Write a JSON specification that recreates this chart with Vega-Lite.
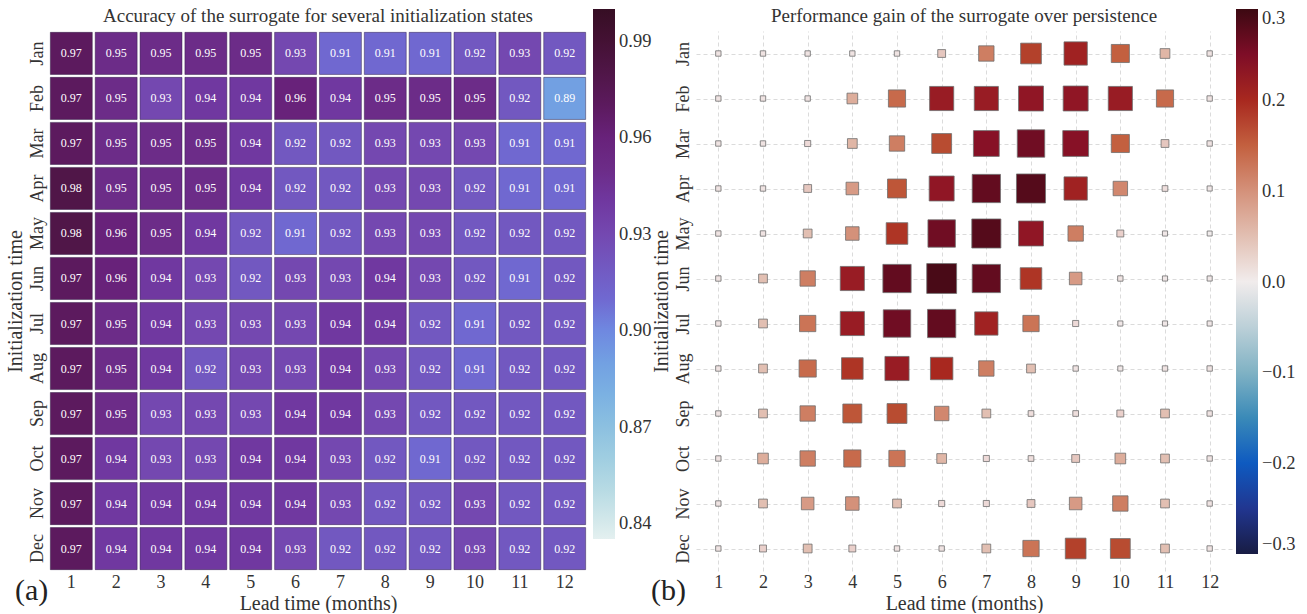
{
  "$schema": "https://vega.github.io/schema/vega-lite/v6.json",
  "background": "white",
  "padding": {"left": 5, "top": 7, "right": 0, "bottom": 0},
  "spacing": -1,
  "config": {
    "font": "Liberation Serif",
    "view": {"stroke": null},
    "axis": {
      "domain": false,
      "ticks": false,
      "labelFont": "Liberation Serif",
      "titleFont": "Liberation Serif",
      "labelColor": "#333333",
      "titleColor": "#333333",
      "labelFontSize": 18,
      "titleFontSize": 20,
      "titleFontWeight": "normal"
    },
    "title": {"font": "Liberation Serif", "fontWeight": "normal", "color": "#333333", "fontSize": 19},
    "legend": {
      "labelFont": "Liberation Serif",
      "labelFontSize": 18.5,
      "labelColor": "#333333",
      "gradientStrokeWidth": 0,
      "labelBaseline": "middle"
    }
  },
  "datasets": {
    "grid": [
      {"month": "Jan", "lead": 1, "acc": 0.97, "gain": 0.01}, {"month": "Jan", "lead": 2, "acc": 0.95, "gain": 0.01}, {"month": "Jan", "lead": 3, "acc": 0.95, "gain": 0.01}, {"month": "Jan", "lead": 4, "acc": 0.95, "gain": 0.01}, {"month": "Jan", "lead": 5, "acc": 0.95, "gain": 0.01}, {"month": "Jan", "lead": 6, "acc": 0.93, "gain": 0.04}, {"month": "Jan", "lead": 7, "acc": 0.91, "gain": 0.12}, {"month": "Jan", "lead": 8, "acc": 0.91, "gain": 0.18}, {"month": "Jan", "lead": 9, "acc": 0.91, "gain": 0.21}, {"month": "Jan", "lead": 10, "acc": 0.92, "gain": 0.15}, {"month": "Jan", "lead": 11, "acc": 0.93, "gain": 0.06}, {"month": "Jan", "lead": 12, "acc": 0.92, "gain": 0.01},
      {"month": "Feb", "lead": 1, "acc": 0.97, "gain": 0.01}, {"month": "Feb", "lead": 2, "acc": 0.95, "gain": 0.01}, {"month": "Feb", "lead": 3, "acc": 0.93, "gain": 0.01}, {"month": "Feb", "lead": 4, "acc": 0.94, "gain": 0.07}, {"month": "Feb", "lead": 5, "acc": 0.94, "gain": 0.14}, {"month": "Feb", "lead": 6, "acc": 0.96, "gain": 0.22}, {"month": "Feb", "lead": 7, "acc": 0.94, "gain": 0.22}, {"month": "Feb", "lead": 8, "acc": 0.95, "gain": 0.23}, {"month": "Feb", "lead": 9, "acc": 0.95, "gain": 0.23}, {"month": "Feb", "lead": 10, "acc": 0.95, "gain": 0.22}, {"month": "Feb", "lead": 11, "acc": 0.92, "gain": 0.14}, {"month": "Feb", "lead": 12, "acc": 0.89, "gain": 0.01},
      {"month": "Mar", "lead": 1, "acc": 0.97, "gain": 0.01}, {"month": "Mar", "lead": 2, "acc": 0.95, "gain": 0.01}, {"month": "Mar", "lead": 3, "acc": 0.95, "gain": 0.02}, {"month": "Mar", "lead": 4, "acc": 0.95, "gain": 0.06}, {"month": "Mar", "lead": 5, "acc": 0.94, "gain": 0.12}, {"month": "Mar", "lead": 6, "acc": 0.92, "gain": 0.17}, {"month": "Mar", "lead": 7, "acc": 0.92, "gain": 0.24}, {"month": "Mar", "lead": 8, "acc": 0.93, "gain": 0.26}, {"month": "Mar", "lead": 9, "acc": 0.93, "gain": 0.24}, {"month": "Mar", "lead": 10, "acc": 0.93, "gain": 0.15}, {"month": "Mar", "lead": 11, "acc": 0.91, "gain": 0.04}, {"month": "Mar", "lead": 12, "acc": 0.91, "gain": 0.01},
      {"month": "Apr", "lead": 1, "acc": 0.98, "gain": 0.01}, {"month": "Apr", "lead": 2, "acc": 0.95, "gain": 0.01}, {"month": "Apr", "lead": 3, "acc": 0.95, "gain": 0.04}, {"month": "Apr", "lead": 4, "acc": 0.95, "gain": 0.09}, {"month": "Apr", "lead": 5, "acc": 0.94, "gain": 0.16}, {"month": "Apr", "lead": 6, "acc": 0.92, "gain": 0.23}, {"month": "Apr", "lead": 7, "acc": 0.92, "gain": 0.27}, {"month": "Apr", "lead": 8, "acc": 0.93, "gain": 0.28}, {"month": "Apr", "lead": 9, "acc": 0.93, "gain": 0.21}, {"month": "Apr", "lead": 10, "acc": 0.92, "gain": 0.11}, {"month": "Apr", "lead": 11, "acc": 0.91, "gain": 0.015}, {"month": "Apr", "lead": 12, "acc": 0.91, "gain": 0.005},
      {"month": "May", "lead": 1, "acc": 0.98, "gain": 0.01}, {"month": "May", "lead": 2, "acc": 0.96, "gain": 0.01}, {"month": "May", "lead": 3, "acc": 0.95, "gain": 0.05}, {"month": "May", "lead": 4, "acc": 0.94, "gain": 0.10}, {"month": "May", "lead": 5, "acc": 0.92, "gain": 0.19}, {"month": "May", "lead": 6, "acc": 0.91, "gain": 0.26}, {"month": "May", "lead": 7, "acc": 0.92, "gain": 0.28}, {"month": "May", "lead": 8, "acc": 0.93, "gain": 0.23}, {"month": "May", "lead": 9, "acc": 0.93, "gain": 0.12}, {"month": "May", "lead": 10, "acc": 0.92, "gain": 0.03}, {"month": "May", "lead": 11, "acc": 0.92, "gain": 0.005}, {"month": "May", "lead": 12, "acc": 0.92, "gain": 0.0},
      {"month": "Jun", "lead": 1, "acc": 0.97, "gain": 0.01}, {"month": "Jun", "lead": 2, "acc": 0.96, "gain": 0.05}, {"month": "Jun", "lead": 3, "acc": 0.94, "gain": 0.12}, {"month": "Jun", "lead": 4, "acc": 0.93, "gain": 0.22}, {"month": "Jun", "lead": 5, "acc": 0.92, "gain": 0.27}, {"month": "Jun", "lead": 6, "acc": 0.93, "gain": 0.29}, {"month": "Jun", "lead": 7, "acc": 0.93, "gain": 0.27}, {"month": "Jun", "lead": 8, "acc": 0.94, "gain": 0.19}, {"month": "Jun", "lead": 9, "acc": 0.93, "gain": 0.09}, {"month": "Jun", "lead": 10, "acc": 0.92, "gain": 0.01}, {"month": "Jun", "lead": 11, "acc": 0.91, "gain": 0.005}, {"month": "Jun", "lead": 12, "acc": 0.92, "gain": 0.005},
      {"month": "Jul", "lead": 1, "acc": 0.97, "gain": 0.01}, {"month": "Jul", "lead": 2, "acc": 0.95, "gain": 0.05}, {"month": "Jul", "lead": 3, "acc": 0.94, "gain": 0.13}, {"month": "Jul", "lead": 4, "acc": 0.93, "gain": 0.22}, {"month": "Jul", "lead": 5, "acc": 0.93, "gain": 0.26}, {"month": "Jul", "lead": 6, "acc": 0.93, "gain": 0.27}, {"month": "Jul", "lead": 7, "acc": 0.94, "gain": 0.21}, {"month": "Jul", "lead": 8, "acc": 0.94, "gain": 0.13}, {"month": "Jul", "lead": 9, "acc": 0.92, "gain": 0.02}, {"month": "Jul", "lead": 10, "acc": 0.91, "gain": 0.005}, {"month": "Jul", "lead": 11, "acc": 0.92, "gain": 0.005}, {"month": "Jul", "lead": 12, "acc": 0.92, "gain": 0.005},
      {"month": "Aug", "lead": 1, "acc": 0.97, "gain": 0.01}, {"month": "Aug", "lead": 2, "acc": 0.95, "gain": 0.05}, {"month": "Aug", "lead": 3, "acc": 0.94, "gain": 0.14}, {"month": "Aug", "lead": 4, "acc": 0.92, "gain": 0.19}, {"month": "Aug", "lead": 5, "acc": 0.93, "gain": 0.22}, {"month": "Aug", "lead": 6, "acc": 0.93, "gain": 0.20}, {"month": "Aug", "lead": 7, "acc": 0.94, "gain": 0.12}, {"month": "Aug", "lead": 8, "acc": 0.93, "gain": 0.05}, {"month": "Aug", "lead": 9, "acc": 0.92, "gain": 0.01}, {"month": "Aug", "lead": 10, "acc": 0.91, "gain": 0.005}, {"month": "Aug", "lead": 11, "acc": 0.92, "gain": 0.01}, {"month": "Aug", "lead": 12, "acc": 0.92, "gain": 0.01},
      {"month": "Sep", "lead": 1, "acc": 0.97, "gain": 0.01}, {"month": "Sep", "lead": 2, "acc": 0.95, "gain": 0.05}, {"month": "Sep", "lead": 3, "acc": 0.93, "gain": 0.12}, {"month": "Sep", "lead": 4, "acc": 0.93, "gain": 0.16}, {"month": "Sep", "lead": 5, "acc": 0.93, "gain": 0.17}, {"month": "Sep", "lead": 6, "acc": 0.94, "gain": 0.11}, {"month": "Sep", "lead": 7, "acc": 0.94, "gain": 0.05}, {"month": "Sep", "lead": 8, "acc": 0.93, "gain": 0.015}, {"month": "Sep", "lead": 9, "acc": 0.92, "gain": 0.015}, {"month": "Sep", "lead": 10, "acc": 0.92, "gain": 0.03}, {"month": "Sep", "lead": 11, "acc": 0.92, "gain": 0.05}, {"month": "Sep", "lead": 12, "acc": 0.92, "gain": 0.01},
      {"month": "Oct", "lead": 1, "acc": 0.97, "gain": 0.01}, {"month": "Oct", "lead": 2, "acc": 0.94, "gain": 0.07}, {"month": "Oct", "lead": 3, "acc": 0.93, "gain": 0.12}, {"month": "Oct", "lead": 4, "acc": 0.93, "gain": 0.14}, {"month": "Oct", "lead": 5, "acc": 0.94, "gain": 0.13}, {"month": "Oct", "lead": 6, "acc": 0.94, "gain": 0.06}, {"month": "Oct", "lead": 7, "acc": 0.93, "gain": 0.02}, {"month": "Oct", "lead": 8, "acc": 0.92, "gain": 0.015}, {"month": "Oct", "lead": 9, "acc": 0.91, "gain": 0.04}, {"month": "Oct", "lead": 10, "acc": 0.92, "gain": 0.07}, {"month": "Oct", "lead": 11, "acc": 0.92, "gain": 0.05}, {"month": "Oct", "lead": 12, "acc": 0.92, "gain": 0.01},
      {"month": "Nov", "lead": 1, "acc": 0.97, "gain": 0.01}, {"month": "Nov", "lead": 2, "acc": 0.94, "gain": 0.05}, {"month": "Nov", "lead": 3, "acc": 0.94, "gain": 0.09}, {"month": "Nov", "lead": 4, "acc": 0.94, "gain": 0.10}, {"month": "Nov", "lead": 5, "acc": 0.94, "gain": 0.05}, {"month": "Nov", "lead": 6, "acc": 0.94, "gain": 0.02}, {"month": "Nov", "lead": 7, "acc": 0.93, "gain": 0.02}, {"month": "Nov", "lead": 8, "acc": 0.92, "gain": 0.04}, {"month": "Nov", "lead": 9, "acc": 0.92, "gain": 0.09}, {"month": "Nov", "lead": 10, "acc": 0.93, "gain": 0.12}, {"month": "Nov", "lead": 11, "acc": 0.92, "gain": 0.05}, {"month": "Nov", "lead": 12, "acc": 0.92, "gain": 0.01},
      {"month": "Dec", "lead": 1, "acc": 0.97, "gain": 0.01}, {"month": "Dec", "lead": 2, "acc": 0.94, "gain": 0.03}, {"month": "Dec", "lead": 3, "acc": 0.94, "gain": 0.05}, {"month": "Dec", "lead": 4, "acc": 0.94, "gain": 0.03}, {"month": "Dec", "lead": 5, "acc": 0.94, "gain": 0.01}, {"month": "Dec", "lead": 6, "acc": 0.93, "gain": 0.01}, {"month": "Dec", "lead": 7, "acc": 0.92, "gain": 0.05}, {"month": "Dec", "lead": 8, "acc": 0.92, "gain": 0.13}, {"month": "Dec", "lead": 9, "acc": 0.92, "gain": 0.18}, {"month": "Dec", "lead": 10, "acc": 0.93, "gain": 0.17}, {"month": "Dec", "lead": 11, "acc": 0.92, "gain": 0.05}, {"month": "Dec", "lead": 12, "acc": 0.92, "gain": 0.01}
    ]
  },
  "resolve": {"scale": {"color": "independent", "size": "independent", "x": "independent", "y": "independent"}},
  "hconcat": [
    {
      "title": {"text": "(a)", "orient": "bottom", "anchor": "start", "frame": "bounds", "fontSize": 30, "color": "#222222", "offset": -37, "dx": 10},
      "vconcat": [
        {
          "width": 538,
          "height": 540,
          "data": {"name": "grid"},
          "title": {"text": "Accuracy of the surrogate for several initialization states", "offset": 5},
          "encoding": {
            "x": {
              "field": "lead", "type": "ordinal",
              "scale": {"paddingInner": 0.065, "paddingOuter": 0.03},
              "axis": {"labelAngle": 0, "labelPadding": 2, "title": "Lead time (months)", "titlePadding": 2}
            },
            "y": {
              "field": "month", "type": "ordinal",
              "sort": ["Jan", "Feb", "Mar", "Apr", "May", "Jun", "Jul", "Aug", "Sep", "Oct", "Nov", "Dec"],
              "scale": {"paddingInner": 0.065, "paddingOuter": 0.03},
              "axis": {"labelAngle": -90, "labelAlign": "center", "labelBaseline": "bottom", "labelPadding": 3, "title": "Initialization time", "titlePadding": 3}
            }
          },
          "layer": [
            {
              "mark": {"type": "rect", "stroke": "#2a1840", "strokeOpacity": 0.45, "strokeWidth": 1},
              "encoding": {
                "color": {
                  "field": "acc", "type": "quantitative",
                  "scale": {
                    "domain": [0.835, 0.85, 0.87, 0.89, 0.90, 0.91, 0.92, 0.93, 0.94, 0.95, 0.96, 0.97, 0.98, 1.0],
                    "range": ["#e4f0f0", "#b8dbe4", "#8cc0e0", "#72a0e2", "#6f88e0", "#7068d0", "#7258c0", "#7448b0", "#7038a0", "#6c2c88", "#68227a", "#5c1a5e", "#501648", "#360e24"]
                  },
                  "legend": {
                    "title": null, "orient": "none", "direction": "vertical",
                    "legendX": 544, "legendY": -22,
                    "gradientLength": 530, "gradientThickness": 22,
                    "values": [0.84, 0.87, 0.90, 0.93, 0.96, 0.99], "format": ".2f", "labelOffset": 4
                  }
                }
              }
            },
            {
              "mark": {"type": "text", "color": "white", "fontSize": 12, "font": "Liberation Serif"},
              "encoding": {"text": {"field": "acc", "type": "quantitative", "format": ".2f"}}
            }
          ]
        }
      ]
    },
    {
      "title": {"text": "(b)", "orient": "bottom", "anchor": "start", "frame": "bounds", "fontSize": 30, "color": "#222222", "offset": -37, "dx": 0},
      "vconcat": [
        {
          "width": 536,
          "height": 540,
          "data": {"name": "grid"},
          "title": {"text": "Performance gain of the surrogate over persistence", "offset": 5},
          "mark": {"type": "point", "shape": "square", "filled": true, "opacity": 1, "stroke": "#6e6e6e", "strokeWidth": 0.8},
          "encoding": {
            "x": {
              "field": "lead", "type": "ordinal",
              "scale": {"type": "point", "padding": 0.5},
              "axis": {"labelAngle": 0, "labelPadding": 2, "title": "Lead time (months)", "titlePadding": 2, "grid": true, "gridDash": [4, 3], "gridColor": "#d2d2d2", "gridWidth": 0.8}
            },
            "y": {
              "field": "month", "type": "ordinal",
              "sort": ["Jan", "Feb", "Mar", "Apr", "May", "Jun", "Jul", "Aug", "Sep", "Oct", "Nov", "Dec"],
              "scale": {"type": "point", "padding": 0.5},
              "axis": {"labelAngle": -90, "labelAlign": "center", "labelBaseline": "bottom", "labelPadding": 4, "title": "Initialization time", "titlePadding": 3, "grid": true, "gridDash": [4, 3], "gridColor": "#d2d2d2", "gridWidth": 0.8}
            },
            "color": {
              "field": "gain", "type": "quantitative",
              "scale": {
                "domain": [-0.3, -0.25, -0.2, -0.15, -0.1, -0.05, 0, 0.05, 0.1, 0.15, 0.2, 0.25, 0.3],
                "range": ["#181c43", "#213690", "#0e5ac0", "#3a8ab8", "#80b2c4", "#bcd0d8", "#f1ecec", "#e2bfb2", "#d4917a", "#c3603f", "#a8281f", "#7e0d27", "#3c0912"]
              },
              "legend": {
                "title": null, "orient": "none", "direction": "vertical",
                "legendX": 540, "legendY": -22,
                "gradientLength": 545, "gradientThickness": 22,
                "values": [-0.3, -0.2, -0.1, 0, 0.1, 0.2, 0.3], "format": ".1f", "labelOffset": 4
              }
            },
            "size": {
              "field": "gain", "type": "quantitative",
              "scale": {"type": "pow", "exponent": 1.6, "domain": [0, 0.3], "range": [25, 940]},
              "legend": null
            }
          }
        }
      ]
    }
  ]
}
